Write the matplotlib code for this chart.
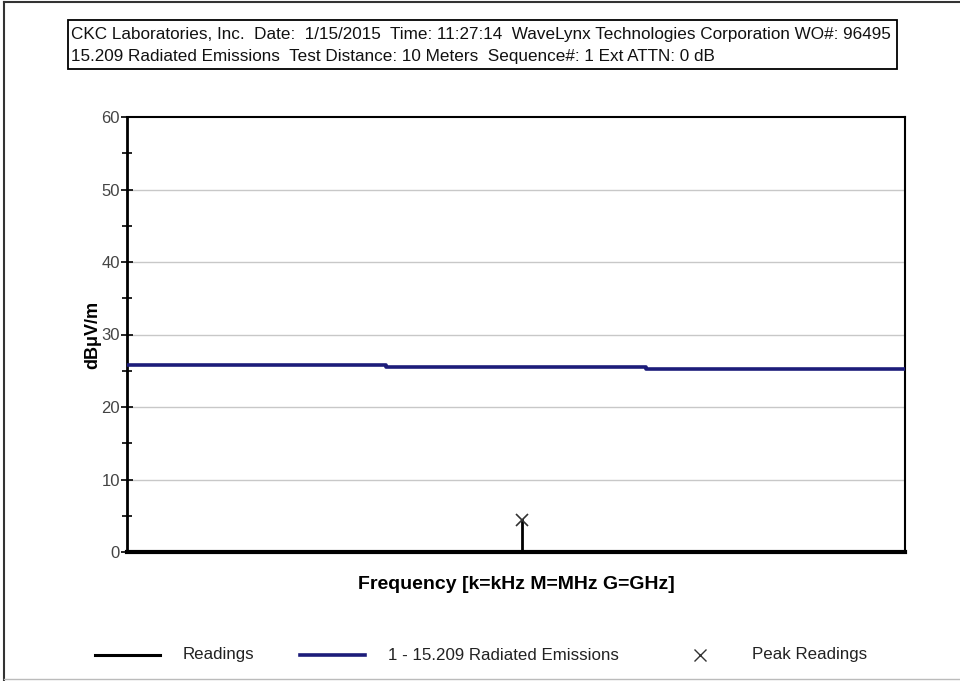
import matplotlib
matplotlib.use("Agg")
import matplotlib.pyplot as plt
from matplotlib.lines import Line2D
from matplotlib.patches import Rectangle
from matplotlib.ticker import MultipleLocator

plt.rcParams['font.family'] = ['Liberation Sans', 'DejaVu Sans']

# ---- data ----
header_lines = [
    "CKC Laboratories, Inc.  Date:  1/15/2015  Time: 11:27:14  WaveLynx Technologies Corporation WO#: 96495",
    "15.209 Radiated Emissions  Test Distance: 10 Meters  Sequence#: 1 Ext ATTN: 0 dB",
]
limit_edges = [0.0, 1.0, 2.0, 3.0]          # relative frequency span (no axis labels shown)
limit_values = [25.8, 25.5, 25.3]           # dBuV/m
peak_freq = [1.523]
peak_value = [4.4]
y_ticks = [0, 10, 20, 30, 40, 50, 60]
legend_labels = ["Readings", "1 - 15.209 Radiated Emissions", "Peak Readings"]
limit_color = "#1c1c7a"

fig = plt.figure(figsize=(9.6, 6.81), dpi=100)
fig.patch.set_facecolor("white")

ax = fig.add_axes([127/960, 1-552/681, (905-127)/960, (552-117)/681])
ax.set_xlim(limit_edges[0], limit_edges[-1])
ax.set_ylim(0, 60)

# limit line (stepped)
xs, ys = [], []
for i, v in enumerate(limit_values):
    xs += [limit_edges[i], limit_edges[i+1]]
    ys += [v, v]
ax.plot(xs, ys, color=limit_color, lw=2.6, solid_capstyle='butt', zorder=3)

# readings (stick) and peak marker
for f, v in zip(peak_freq, peak_value):
    ax.plot([f, f], [0, v], color="black", lw=2.0, zorder=3)
ax.plot(peak_freq, peak_value, linestyle='none', marker='x', color='#333333',
        markersize=9, mew=1.2, zorder=4)

# grid
ax.set_yticks(y_ticks)
ax.yaxis.set_minor_locator(MultipleLocator(5))
ax.set_xticks([])
for t in y_ticks[1:-1]:
    ax.axhline(t, color="#c8c8c8", lw=1.0, zorder=1)

ax.tick_params(axis='y', which='major', direction='inout', length=8, width=1.2,
               labelsize=12, labelcolor="#444444", pad=1)
ax.tick_params(axis='y', which='minor', direction='inout', length=7, width=1.2)

for side, lw in [('left', 2.0), ('bottom', 3.0), ('top', 1.5), ('right', 1.5)]:
    ax.spines[side].set_linewidth(lw)
    ax.spines[side].set_color("black")
ax.spines['bottom'].set_zorder(5)

ax.set_ylabel("dBμV/m", fontsize=13, fontweight='bold')
ax.yaxis.set_label_coords((101-127)/778, 0.5)
ax.set_xlabel("Frequency [k=kHz M=MHz G=GHz]", fontsize=14, fontweight='bold', labelpad=17)

# header box
fig.add_artist(Rectangle((68/960, 1-69/681), (897-68)/960, (69-20)/681,
                         transform=fig.transFigure, fill=False, edgecolor="black", lw=1.3))
fig.text(71/960, 1-34/681, header_lines[0], fontsize=12.3, va='center', ha='left', color="#111111")
fig.text(71/960, 1-56/681, header_lines[1], fontsize=12.3, va='center', ha='left', color="#111111")

# legend
ly = 1-655/681
fig.add_artist(Line2D([95/960, 160/960], [ly, ly], transform=fig.transFigure,
                      color="black", lw=2.2))
fig.text(183/960, ly, legend_labels[0], fontsize=12.2, va='center', ha='left', color="#222222")
fig.add_artist(Line2D([300/960, 365/960], [ly, ly], transform=fig.transFigure,
                      color=limit_color, lw=2.6))
fig.text(388/960, ly, legend_labels[1], fontsize=12.2, va='center', ha='left', color="#222222")
fig.add_artist(Line2D([700/960], [ly], transform=fig.transFigure, linestyle='none',
                      marker='x', color="#333333", markersize=8, mew=1.0))
fig.text(752/960, ly, legend_labels[2], fontsize=12.2, va='center', ha='left', color="#222222")

# outer border
fig.add_artist(Line2D([3.5/960, 3.5/960], [0.002, 1-2/681], transform=fig.transFigure, color="#333333", lw=1.5))
fig.add_artist(Line2D([3.5/960, 1.0], [1-2/681, 1-2/681], transform=fig.transFigure, color="#333333", lw=1.5))
fig.add_artist(Line2D([3.5/960, 1.0], [2/681, 2/681], transform=fig.transFigure, color="#bbbbbb", lw=1.0))

fig.savefig("out.png", dpi=100, facecolor="white")
